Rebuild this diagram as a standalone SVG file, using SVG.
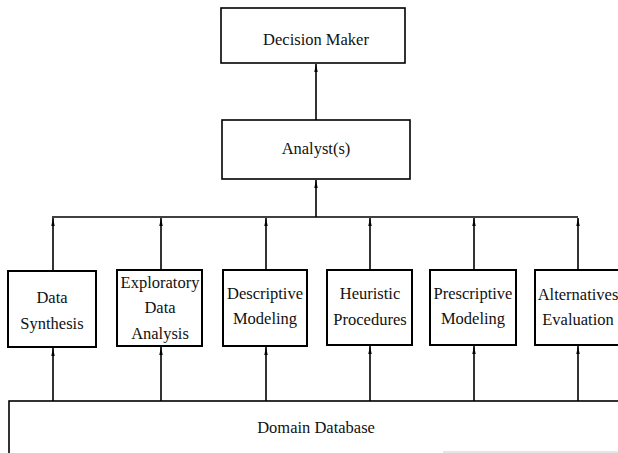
<svg xmlns="http://www.w3.org/2000/svg" width="618" height="453" viewBox="0 0 618 453">
<defs>
<marker id="ah" markerWidth="8" markerHeight="6" refX="8" refY="3" orient="auto" markerUnits="userSpaceOnUse">
<path d="M0,1.3 L8,3 L0,4.7 Z" fill="#000"/>
</marker>
<style>
rect{fill:#fff;stroke:#000;stroke-width:1.6}
.box rect{stroke-width:2}
text{font-family:"Liberation Serif","Times New Roman",serif;font-size:16.5px;fill:#111;text-anchor:middle}
.c line,.c polyline{stroke:#000;stroke-width:1.6;fill:none}
.c .a{marker-end:url(#ah)}
</style>
</defs>
<g id="decision-maker"><rect x="221" y="8" width="184" height="55"/><text x="316" y="45">Decision Maker</text></g>
<g id="analysts"><rect x="222" y="120" width="188" height="59"/><text x="316" y="154">Analyst(s)</text></g>
<g id="data-synthesis" class="box"><rect x="8" y="271" width="88" height="76"/><text x="52" y="303">Data</text><text x="52" y="329">Synthesis</text></g>
<g id="exploratory" class="box"><rect x="117" y="270" width="85" height="76"/><text x="160" y="288">Exploratory</text><text x="160" y="313">Data</text><text x="160" y="339">Analysis</text></g>
<g id="descriptive" class="box"><rect x="223" y="270" width="84" height="76"/><text x="265" y="299">Descriptive</text><text x="265" y="324">Modeling</text></g>
<g id="heuristic" class="box"><rect x="327" y="270" width="85" height="75"/><text x="370" y="299">Heuristic</text><text x="370" y="325">Procedures</text></g>
<g id="prescriptive" class="box"><rect x="430" y="270" width="86" height="75"/><text x="473" y="299">Prescriptive</text><text x="473" y="324">Modeling</text></g>
<g id="alternatives" class="box"><rect x="535" y="270" width="88" height="75"/><text x="578" y="300">Alternatives</text><text x="578" y="325">Evaluation</text></g>
<g id="domain-database"><rect x="9" y="401" width="620" height="70"/><line x1="443" y1="452" x2="618" y2="452" stroke="#ccc" stroke-width="1"/><text x="316" y="433">Domain Database</text></g>
<g id="connectors" class="c">
<line class="a" x1="316" y1="120" x2="316" y2="64"/>
<line class="a" x1="316" y1="217" x2="316" y2="180"/>
<line x1="52" y1="217" x2="578" y2="217"/>
<line class="a" x1="53" y1="271" x2="53" y2="218"/>
<line class="a" x1="161" y1="270" x2="161" y2="218"/>
<line class="a" x1="266" y1="270" x2="266" y2="218"/>
<line class="a" x1="370" y1="270" x2="370" y2="218"/>
<line class="a" x1="474" y1="270" x2="474" y2="218"/>
<line class="a" x1="578" y1="270" x2="578" y2="218"/>
<line class="a" x1="53" y1="401" x2="53" y2="348"/>
<line class="a" x1="161" y1="401" x2="161" y2="347"/>
<line class="a" x1="266" y1="401" x2="266" y2="347"/>
<line class="a" x1="370" y1="401" x2="370" y2="346"/>
<line class="a" x1="474" y1="401" x2="474" y2="346"/>
<line class="a" x1="578" y1="401" x2="578" y2="346"/>
</g>
</svg>
